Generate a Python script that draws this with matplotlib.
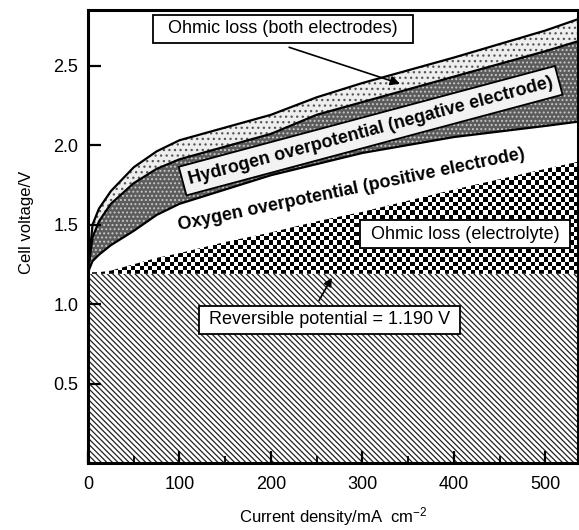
import numpy as np
import matplotlib.pyplot as plt

plt.rcParams['font.family'] = ['Liberation Sans', 'DejaVu Sans']
plt.rcParams['hatch.linewidth'] = 0.9

# current density, mA cm-2
current = [0, 5, 12, 25, 50, 75, 100, 150, 200, 250, 300, 400, 500, 540]
# cell voltage at the top of each loss band, V
v_total = [1.21, 1.50, 1.60, 1.71, 1.86, 1.96, 2.03, 2.11, 2.19, 2.30, 2.39, 2.55, 2.72, 2.80]
v_hydrogen = [1.21, 1.42, 1.52, 1.63, 1.76, 1.85, 1.91, 1.99, 2.07, 2.19, 2.27, 2.43, 2.59, 2.66]
v_oxygen = [1.20, 1.27, 1.31, 1.37, 1.46, 1.56, 1.63, 1.72, 1.81, 1.88, 1.95, 2.05, 2.12, 2.15]
v_ohmic = [1.19, 1.20, 1.20, 1.21, 1.25, 1.29, 1.32, 1.39, 1.45, 1.52, 1.58, 1.72, 1.85, 1.90]
v_rev = 1.190

xticks = [0, 100, 200, 300, 400, 500]
yticks = [0.5, 1.0, 1.5, 2.0, 2.5]

fig = plt.figure(figsize=(5.79, 5.30), dpi=100)
ax = fig.add_axes([0.152, 0.1264, 0.846, 0.855])
ax.set_xlim(0, 535.5)
ax.set_ylim(0, 2.85)

# reversible potential - diagonal hatch
ax.fill_between([current[0], current[-1]], 0, v_rev, facecolor='white',
                edgecolor='#222222', hatch='\\' * 6, linewidth=0, zorder=1)

# ohmic loss in electrolyte - checkerboard texture clipped to the band
band = ax.fill_between(current, v_rev, v_ohmic, facecolor='none', edgecolor='none', zorder=1)
checker = np.indices((106, 114)).sum(axis=0) % 2
im = ax.imshow(checker, cmap='gray', interpolation='nearest', aspect='auto',
               extent=(0, 535.5, 0, 2.85), zorder=1)
im.set_clip_path(band.get_paths()[0], transform=ax.transData)

# hydrogen overpotential - dark band
ax.fill_between(current, v_oxygen, v_hydrogen, facecolor='#5c5c5c',
                edgecolor='#c8c8c8', hatch='....', linewidth=0, zorder=1)
# ohmic loss both electrodes - light dotted band
ax.fill_between(current, v_hydrogen, v_total, facecolor='#eeeeee',
                edgecolor='#555555', hatch='...', linewidth=0, zorder=1)

for v in (v_total, v_hydrogen, v_oxygen):
    ax.plot(current, v, color='black', lw=1.6, zorder=2)

# labels
box = dict(boxstyle='square,pad=0.3', facecolor='white', edgecolor='black', lw=1.3)
ax.text(213, 2.73, '  Ohmic loss (both electrodes)  ', fontsize=13, ha='center', va='center',
        bbox=box, zorder=5)
ax.annotate('', xy=(344, 2.38), xytext=(217, 2.62),
            arrowprops=dict(arrowstyle='-|>', color='black', lw=1.2, mutation_scale=14), zorder=5)

ax.text(309, 2.09, 'Hydrogen overpotential (negative electrode)', fontsize=13, fontweight='bold',
        ha='center', va='center', rotation=15, rotation_mode='anchor',
        bbox=dict(boxstyle='square,pad=0.35', facecolor='#f2f2f2', edgecolor='black', lw=1.3),
        zorder=5)
ax.text(288, 1.72, 'Oxygen overpotential (positive electrode)', fontsize=13, fontweight='bold',
        ha='center', va='center', rotation=11.7, rotation_mode='anchor', zorder=5)

ax.text(412, 1.44, ' Ohmic loss (electrolyte) ', fontsize=13, ha='center', va='center',
        bbox=box, zorder=5)

ax.text(264, 0.90, ' Reversible potential = 1.190 V ', fontsize=13, ha='center', va='center',
        bbox=box, zorder=5)
ax.annotate('', xy=(268, 1.18), xytext=(251, 1.006),
            arrowprops=dict(arrowstyle='-|>', color='black', lw=1.2, mutation_scale=12), zorder=5)

# axes
ax.set_xticks(xticks)
ax.set_xticks([50, 150, 250, 350, 450], minor=True)
ax.set_yticks(yticks)
ax.set_yticklabels(['0.5', '1.0', '1.5', '2.0', '2.5'])
ax.tick_params(direction='in', labelsize=13, width=1.6, length=9)
ax.tick_params(axis='x', pad=9)
ax.tick_params(axis='y', pad=7)
ax.tick_params(axis='x', which='minor', direction='in', width=1.3, length=5)
for s in ax.spines.values():
    s.set_linewidth(2.2)
    s.set_zorder(6)

ax.set_xlabel('Current density/mA  $\\mathregular{cm^{-2}}$', fontsize=12, labelpad=9)
ax.set_ylabel('Cell voltage/V', fontsize=12)
ax.yaxis.set_label_coords(-0.11, 0.53)

fig.savefig('out.png', dpi=100)
